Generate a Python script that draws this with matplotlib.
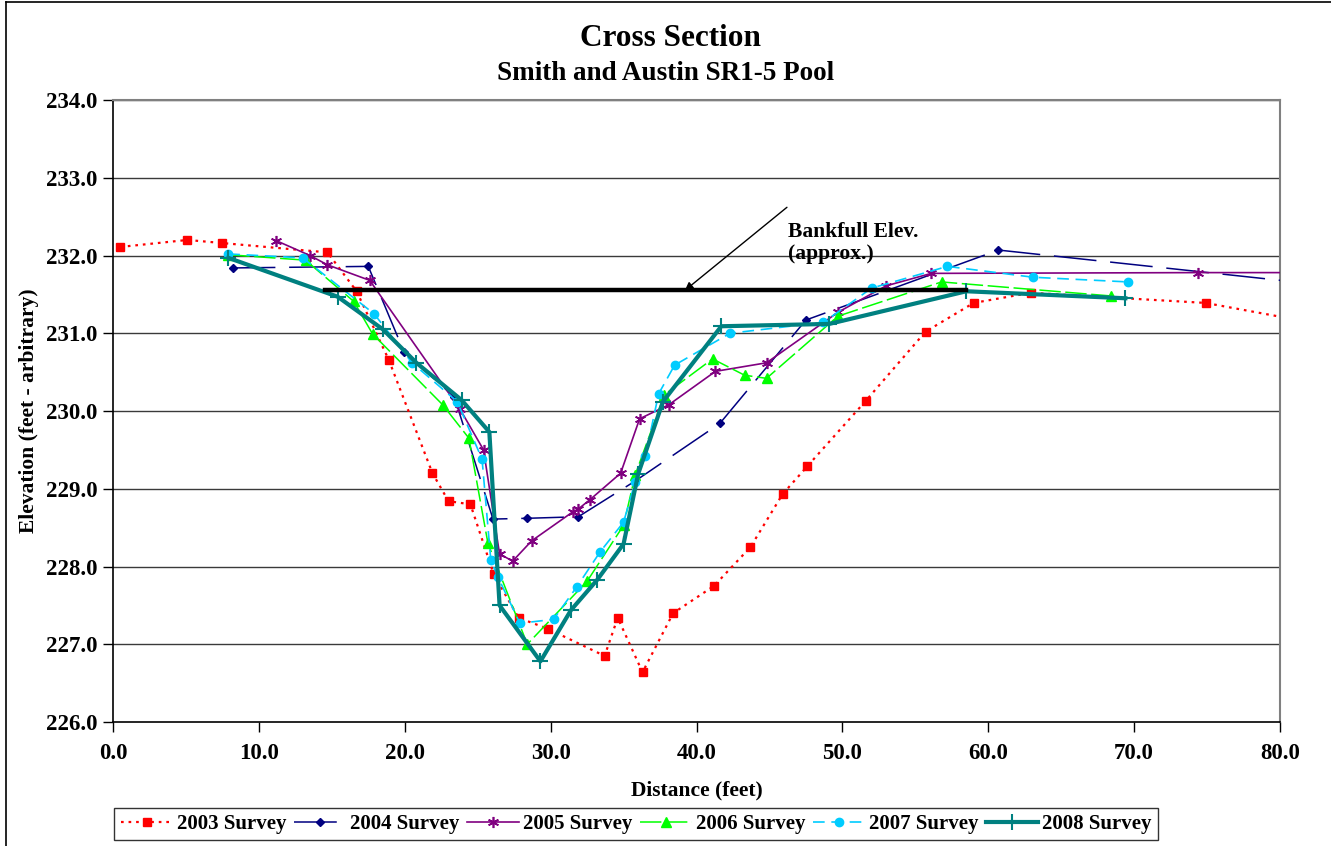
import matplotlib
matplotlib.use("Agg")
import matplotlib.pyplot as plt
from matplotlib.lines import Line2D
from matplotlib.ticker import MultipleLocator, FormatStrFormatter

plt.rcParams['font.family'] = ['Liberation Serif', 'DejaVu Serif']
plt.rcParams['font.weight'] = 'bold'

# ---------------- data ----------------
x2003 = [0.5, 5.1, 7.5, 14.7, 16.7, 18.9, 21.9, 23.0, 24.5, 26.1, 27.8, 29.8, 33.7, 34.6,
         36.3, 38.4, 41.2, 43.7, 45.9, 47.6, 51.6, 55.7, 59.0, 62.9, 74.9, 85.0]
y2003 = [232.11, 232.20, 232.16, 232.04, 231.54, 230.66, 229.20, 228.84, 228.80, 227.90,
         227.34, 227.20, 226.85, 227.34, 226.64, 227.40, 227.75, 228.25, 228.93, 229.29,
         230.13, 231.02, 231.39, 231.52, 231.39, 231.04]

x2004 = [8.2, 17.5, 19.95, 23.4, 26.05, 28.4, 31.9, 35.8, 41.6, 47.5, 60.7, 85.0]
y2004 = [231.84, 231.86, 230.76, 230.18, 228.61, 228.62, 228.64, 229.10, 229.84, 231.17,
         232.07, 231.58]

x2005 = [11.2, 13.5, 14.7, 17.6, 23.8, 25.4, 26.5, 27.4, 28.7, 31.5, 31.9, 32.7, 34.8,
         36.1, 38.1, 41.3, 44.8, 49.7, 53.0, 56.1, 74.4, 85.0]
y2005 = [232.19, 232.00, 231.88, 231.68, 230.02, 229.50, 228.16, 228.07, 228.33, 228.70,
         228.74, 228.86, 229.20, 229.90, 230.08, 230.51, 230.62, 231.27, 231.61, 231.77,
         231.78, 231.78]

x2006 = [7.9, 13.2, 16.5, 17.8, 22.6, 24.4, 25.7, 28.4, 32.5, 35.0, 35.8, 37.8, 41.1,
         43.3, 44.8, 49.7, 56.8, 68.4]
y2006 = [232.01, 231.94, 231.41, 230.99, 230.08, 229.65, 228.30, 227.00, 227.81, 228.53,
         229.18, 230.21, 230.67, 230.46, 230.42, 231.22, 231.66, 231.48]

x2007 = [7.9, 13.0, 17.9, 20.5, 23.6, 25.3, 25.9, 26.4, 27.9, 30.2, 31.8, 33.4, 35.0,
         35.8, 36.5, 37.4, 38.5, 42.3, 48.7, 52.0, 57.2, 63.1, 69.6]
y2007 = [232.02, 231.97, 231.25, 230.62, 230.12, 229.38, 228.08, 227.86, 227.27, 227.32,
         227.74, 228.19, 228.57, 229.09, 229.42, 230.22, 230.59, 231.00, 231.14, 231.58,
         231.86, 231.72, 231.66]

x2008 = [7.9, 15.4, 18.5, 20.8, 23.9, 25.8, 26.5, 29.3, 31.4, 33.2, 35.0, 36.0, 37.7,
         41.7, 49.1, 58.5, 69.4]
y2008 = [231.97, 231.47, 231.05, 230.62, 230.14, 229.73, 227.50, 226.78, 227.44, 227.83,
         228.29, 229.19, 230.12, 231.09, 231.12, 231.54, 231.45]

bankfull_x = [14.5, 58.5]
bankfull_elev = 231.55
bankfull_label = "Bankfull Elev.\n(approx.)"

series_labels = ["2003 Survey", "2004 Survey", "2005 Survey",
                 "2006 Survey", "2007 Survey", "2008 Survey"]

x_ticks = [0, 10, 20, 30, 40, 50, 60, 70, 80]
y_ticks = [226, 227, 228, 229, 230, 231, 232, 233, 234]

# ---------------- figure ----------------
W, H = 1331, 846
fig = plt.figure(figsize=(W / 100, H / 100), dpi=100)
ax = fig.add_axes([113 / W, 1 - 722 / H, (1280 - 113) / W, (722 - 100) / H])

ax.set_xlim(0, 80)
ax.set_ylim(226, 234)

for y in y_ticks[1:]:
    ax.axhline(y, color='#3a3a3a', lw=1.0, zorder=1)

ax.plot(x2003, y2003, color='#FF0000', ls=(0, (1.2, 2.2)), lw=1.6, marker='s', ms=6,
        mec='#FF0000', mfc='#FF0000', label=series_labels[0], zorder=3)
ax.plot(x2004, y2004, color='#000080', ls=(0, (28, 9)), lw=1.1, marker='D', ms=4.5,
        mec='#000080', mfc='#000080', label=series_labels[1], zorder=3)
ax.plot(x2005, y2005, color='#800080', ls='-', lw=1.2, marker=(6, 2, 0), ms=8, mew=1.2,
        mec='#800080', label=series_labels[2], zorder=3)
ax.plot(x2006, y2006, color='#00FF00', ls=(0, (14, 3)), lw=1.1, marker='^', ms=6.5,
        mec='#00FF00', mfc='#00FF00', label=series_labels[3], zorder=3)
ax.plot(x2007, y2007, color='#00CCFF', ls=(0, (7, 4)), lw=1.2, marker='o', ms=6,
        mec='#00CCFF', mfc='#00CCFF', label=series_labels[4], zorder=3)
ax.plot(x2008, y2008, color='#008080', ls='-', lw=3.0, marker='+', ms=11, mew=1.5,
        mec='#008080', label=series_labels[5], zorder=4)

ax.plot(bankfull_x, [bankfull_elev, bankfull_elev], color='black', lw=3.2, zorder=5)

ax.annotate("", xy=(39.2, bankfull_elev), xytext=(46.2, 232.62),
            arrowprops=dict(arrowstyle='-|>', color='black', lw=1.0,
                            mutation_scale=12, shrinkA=0, shrinkB=0), zorder=6)
ax.text(46.3, 232.16, bankfull_label, ha='left', va='center', fontsize=15.5,
        fontweight='bold', linespacing=1.1, zorder=6)

ax.xaxis.set_major_locator(MultipleLocator(10))
ax.yaxis.set_major_locator(MultipleLocator(1))
ax.xaxis.set_major_formatter(FormatStrFormatter('%.1f'))
ax.yaxis.set_major_formatter(FormatStrFormatter('%.1f'))
ax.tick_params(axis='both', direction='out', length=7, width=1.0, labelsize=16.5, pad=8)
ax.tick_params(axis='y', pad=4)
for lab in ax.get_xticklabels() + ax.get_yticklabels():
    lab.set_fontweight('bold')

for s in ['left', 'bottom']:
    ax.spines[s].set_color('black')
    ax.spines[s].set_linewidth(1.2)
for s in ['top', 'right']:
    ax.spines[s].set_color('#808080')
    ax.spines[s].set_linewidth(1.5)

ax.set_xlabel("Distance (feet)", fontsize=15.5, fontweight='bold', labelpad=12)
ax.set_ylabel("Elevation (feet - arbitrary)", fontsize=15.5, fontweight='bold')
ax.yaxis.set_label_coords(-0.0635, 0.5)

fig.text(670 / W, 1 - 39 / H, "Cross Section", ha='center', va='center',
         fontsize=22.5, fontweight='bold')
fig.text(666 / W, 1 - 74 / H, "Smith and Austin SR1-5 Pool", ha='center', va='center',
         fontsize=19.5, fontweight='bold')

leg = fig.legend(loc='center', bbox_to_anchor=(636 / W, 1 - 824 / H), ncol=6,
                 fontsize=15, frameon=True, fancybox=False, edgecolor='black',
                 handlelength=2.5, columnspacing=0.35, handletextpad=0.2,
                 borderpad=0.3, borderaxespad=0)
leg.get_frame().set_linewidth(1.0)
for t in leg.get_texts():
    t.set_fontweight('bold')

# outer chart border (left and top visible)
fig.add_artist(Line2D([6 / W, 6 / W], [0, 1 - 2 / H], transform=fig.transFigure,
                      color='black', lw=1.2))
fig.add_artist(Line2D([6 / W, 1], [1 - 2 / H, 1 - 2 / H], transform=fig.transFigure,
                      color='black', lw=1.2))

fig.savefig("out.png", dpi=100)
